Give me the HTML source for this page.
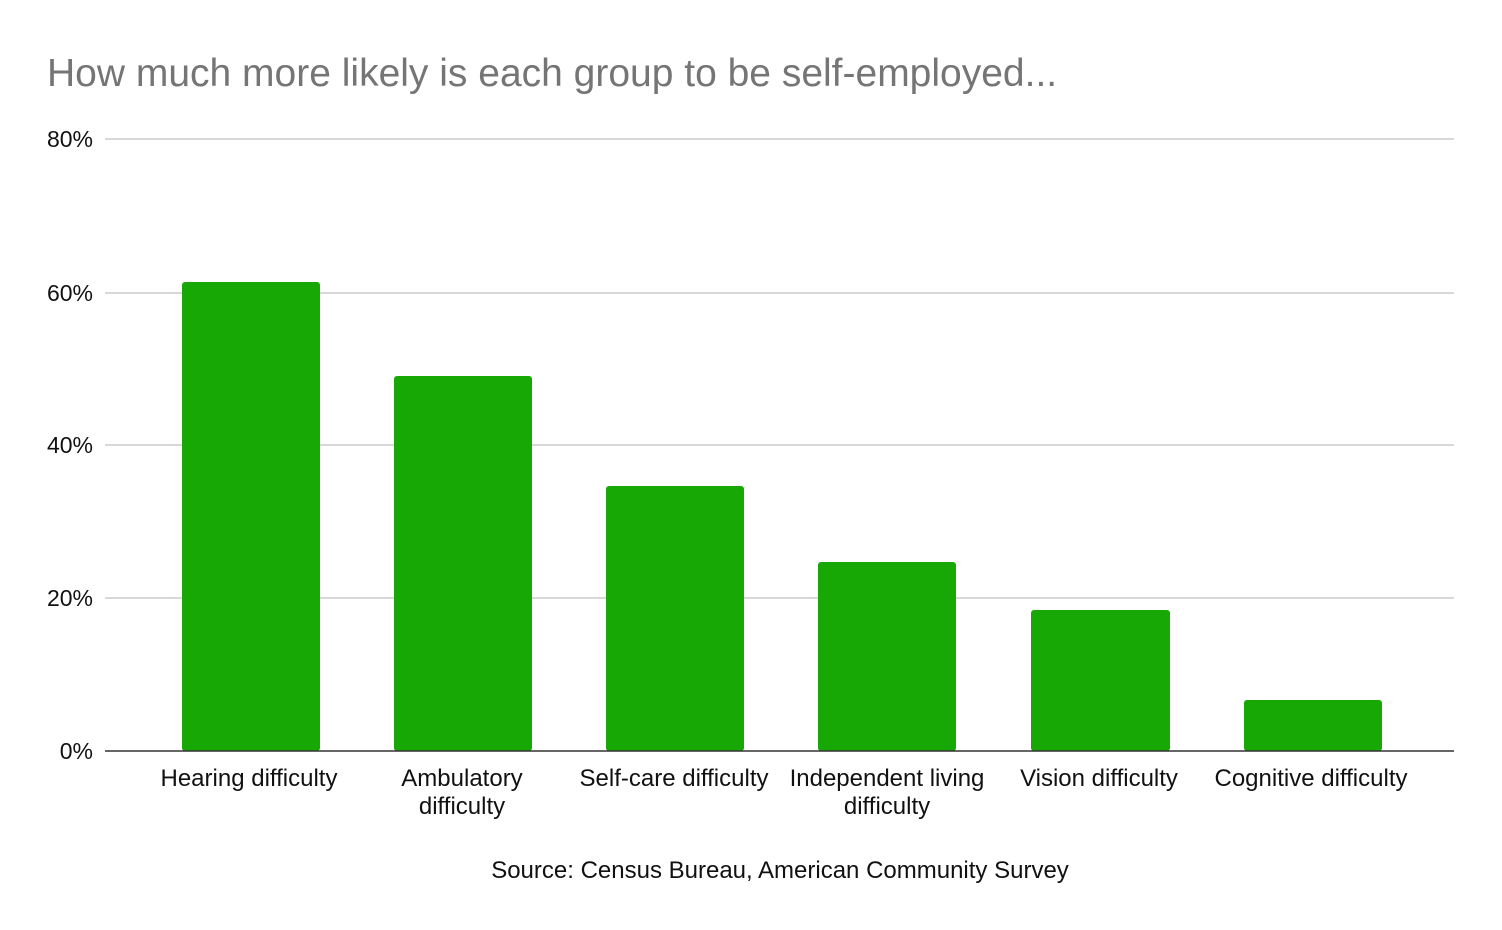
<!DOCTYPE html>
<html><head><meta charset="utf-8"><style>
body{margin:0;background:#fff;}
svg{display:block;font-family:"Liberation Sans",Arial,sans-serif;}
</style></head><body>
<svg width="1502" height="930" xmlns="http://www.w3.org/2000/svg">
<rect width="1502" height="930" fill="#fff"/>
<text x="47" y="86" font-size="39" fill="#757575">How much more likely is each group to be self-employed...</text>
<g stroke="#cccccc" stroke-width="1.5">
<line x1="105" y1="139" x2="1454" y2="139"/>
<line x1="105" y1="293" x2="1454" y2="293"/>
<line x1="105" y1="445" x2="1454" y2="445"/>
<line x1="105" y1="598" x2="1454" y2="598"/>
</g>
<g font-size="23" fill="#111" text-anchor="end">
<text x="93" y="147">80%</text>
<text x="93" y="301">60%</text>
<text x="93" y="453">40%</text>
<text x="93" y="606">20%</text>
<text x="93" y="759">0%</text>
</g>
<g fill="#17a805">
<rect x="182" y="282" width="138" height="469" rx="3"/>
<rect x="394" y="376" width="138" height="375" rx="3"/>
<rect x="606" y="486" width="138" height="265" rx="3"/>
<rect x="818" y="562" width="138" height="189" rx="3"/>
<rect x="1031" y="610" width="139" height="141" rx="3"/>
<rect x="1244" y="700" width="138" height="51" rx="3"/>
</g>
<line x1="105" y1="751" x2="1454" y2="751" stroke="#333" stroke-width="1.5"/>
<g font-size="24" fill="#111" text-anchor="middle">
<text x="249" y="786">Hearing difficulty</text>
<text x="462" y="786">Ambulatory</text>
<text x="462" y="814">difficulty</text>
<text x="674" y="786">Self-care difficulty</text>
<text x="887" y="786">Independent living</text>
<text x="887" y="814">difficulty</text>
<text x="1099" y="786">Vision difficulty</text>
<text x="1311" y="786">Cognitive difficulty</text>
<text x="780" y="878">Source: Census Bureau, American Community Survey</text>
</g>
</svg>
</body></html>
